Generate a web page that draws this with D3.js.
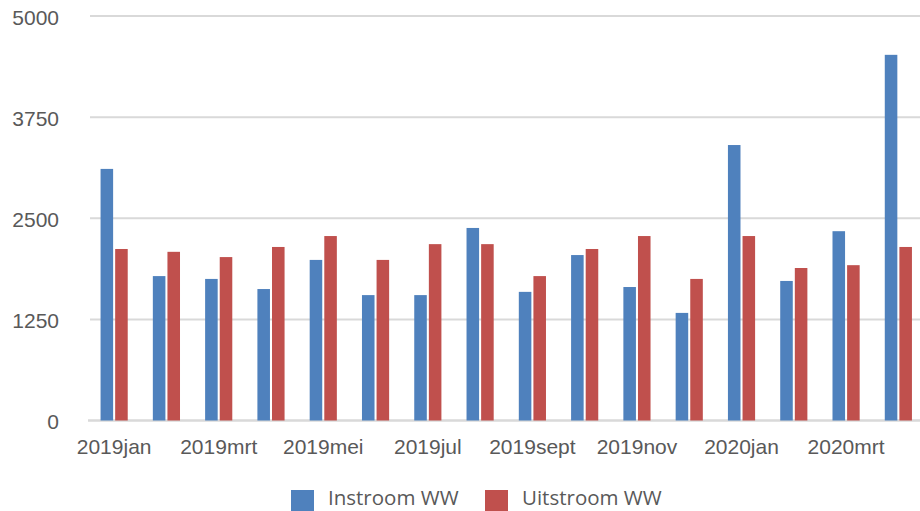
<!DOCTYPE html>
<html>
<head>
<meta charset="utf-8">
<script src="https://cdn.jsdelivr.net/npm/d3@7"></script>
<style>
  body { margin: 0; background: #fff; }
  svg { display: block; font-family: "Open Sans", sans-serif; }
  .tick text { fill: #595959; }
</style>
</head>
<body>
<svg width="920" height="511"></svg>
<script>
// months shown on the x axis (every other one labelled)
var months = ["2019jan", "2019feb", "2019mrt", "2019apr", "2019mei", "2019jun",
    "2019jul", "2019aug", "2019sept", "2019okt", "2019nov", "2019dec",
    "2020jan", "2020feb", "2020mrt", "2020apr"];
var instroom = [3110, 1785, 1750, 1625, 1985, 1550, 1550, 2380,
    1590, 2045, 1650, 1330, 3405, 1725, 2340, 4520];
var uitstroom = [2120, 2085, 2020, 2145, 2280, 1985, 2180, 2180,
    1785, 2120, 2280, 1750, 2280, 1885, 1920, 2145];
var series = ["Instroom WW", "Uitstroom WW"];
var colors = ["#4f81bd", "#c0504d"];
var yTicks = [0, 1250, 2500, 3750, 5000];

var svg = d3.select("svg");

// plot runs a little past the right edge, like the cropped original
var x = d3.scaleBand()
    .domain(months)
    .range([88, 924.5]);

var xInner = d3.scaleBand()
    .domain(series)
    .range([0, x.bandwidth()])
    .paddingInner(0.14)
    .paddingOuter(0.86);

var y = d3.scaleLinear()
    .domain([0, 5000])
    .range([420.5, 16]);

// gridlines
svg.append("g")
    .selectAll("line")
    .data(yTicks)
    .enter().append("line")
    .attr("x1", function(d) { return d === 0 ? 88 : 90; })
    .attr("x2", 920)
    .attr("y1", function(d) { return y(d); })
    .attr("y2", function(d) { return y(d); })
    .attr("stroke", "#d9d9d9")
    .attr("stroke-width", function(d) { return d === 0 ? 2.5 : 2; });

// y axis labels
var yAxis = svg.append("g")
    .attr("transform", "translate(59,0)")
    .call(d3.axisLeft(y).tickValues(yTicks).tickSize(0).tickPadding(0).tickFormat(d3.format("d")));
yAxis.select(".domain").remove();
yAxis.selectAll("text")
    .attr("font-size", 21)
    .attr("dy", "0.4em");

// bars
var rows = months.map(function(m, i) {
    return { month: m, values: [instroom[i], uitstroom[i]] };
});

var groups = svg.append("g")
    .selectAll("g")
    .data(rows)
    .enter().append("g")
    .attr("transform", function(d) { return "translate(" + x(d.month) + ",0)"; });

groups.selectAll("rect")
    .data(function(d) { return d.values.map(function(v, j) { return { key: series[j], value: v, i: j }; }); })
    .enter().append("rect")
    .attr("x", function(d) { return xInner(d.key); })
    .attr("width", xInner.bandwidth())
    .attr("y", function(d) { return y(d.value); })
    .attr("height", function(d) { return y(0) - y(d.value); })
    .attr("fill", function(d) { return colors[d.i]; });

// x axis labels
var xAxis = svg.append("g")
    .attr("transform", "translate(0,421)")
    .call(d3.axisBottom(x)
        .tickValues(months.filter(function(m, i) { return i % 2 === 0; }))
        .tickSize(0)
        .tickPadding(0));
xAxis.select(".domain").remove();
xAxis.selectAll("text")
    .attr("font-size", 21)
    .attr("dy", 0)
    .attr("y", 33);

// legend
var legend = svg.append("g");

var legendX = [291, 485];
series.forEach(function(s, i) {
    legend.append("rect")
        .attr("x", legendX[i])
        .attr("y", 490)
        .attr("width", 23)
        .attr("height", 21)
        .attr("fill", colors[i]);
    legend.append("text")
        .attr("x", legendX[i] + 37)
        .attr("y", 505)
        .attr("font-size", 20.5)
        .attr("fill", "#595959")
        .text(s);
});
</script>
</body>
</html>
